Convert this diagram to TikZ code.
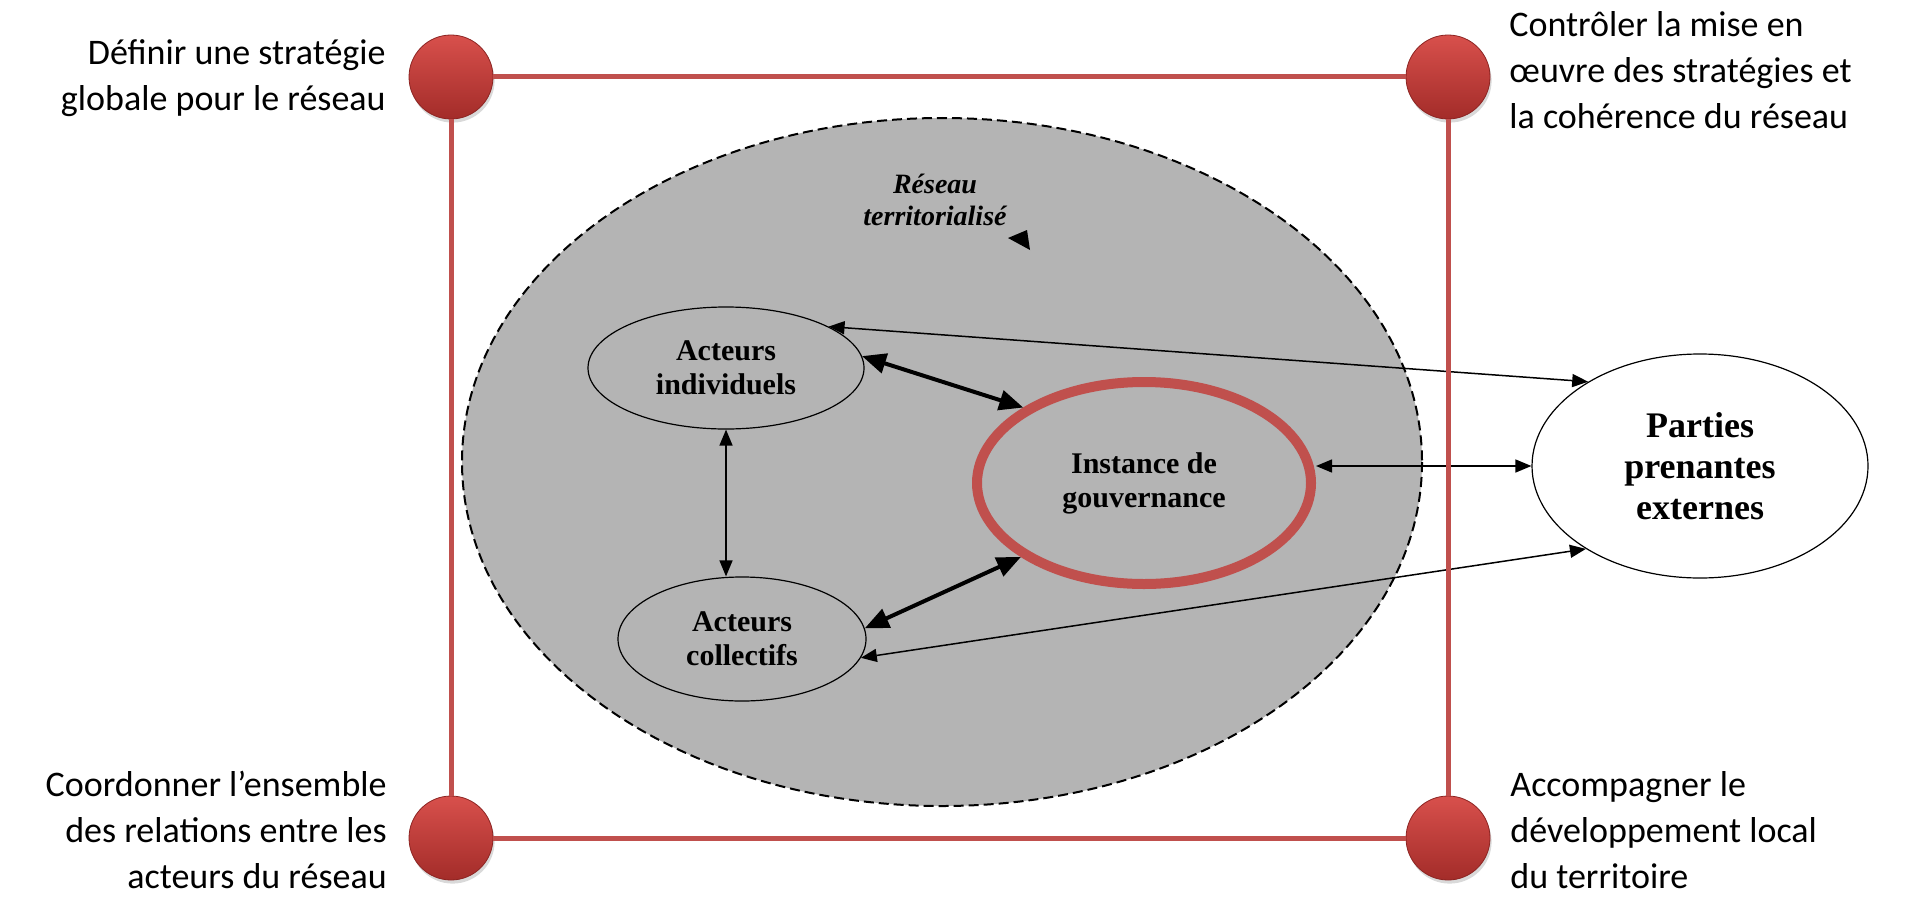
\documentclass[tikz,border=0pt]{standalone}
\usepackage{fontspec}
\setmainfont{Carlito}
\newfontfamily\scanfont{Liberation Serif}
\usetikzlibrary{arrows.meta,shapes.geometric,shadows}

\definecolor{frameRed}{RGB}{192,80,77}
\definecolor{ballTop}{RGB}{216,80,76}
\definecolor{ballBot}{RGB}{163,44,41}
\definecolor{netGray}{RGB}{180,180,180}

\tikzset{
	ball/.style={circle,minimum size=42pt,inner sep=0pt,draw={rgb,255:red,140;green,36;blue,34},line width=0.4pt,top color=ballTop,bottom color=ballBot,drop shadow={opacity=0.3,shadow xshift=0.8pt,shadow yshift=-1.8pt}},
	frame/.style={draw=frameRed,line width=2.5pt},
	task/.style={inner sep=0pt,font=\fontsize{18}{23}\selectfont},
	actor/.style={ellipse,draw,line width=0.6pt,inner sep=0pt,align=center,font=\scanfont\bfseries\fontsize{15}{17}\selectfont},
	link/.style={{Triangle[length=8pt,width=6.5pt]}-{Triangle[length=8pt,width=6.5pt]},line width=0.75pt},
	strong/.style={{Triangle[length=12pt,width=10pt]}-{Triangle[length=12pt,width=10pt]},line width=2pt},
}

\begin{document}
\begin{tikzpicture}[x=0.5pt,y=0.5pt,yscale=-1,xscale=1]
	\useasboundingbox (0,0) rectangle (1909,899);

	%Shape: Ellipse [reseau territorialise]
	\draw [fill=netGray,line width=1pt,dash pattern=on 5pt off 2.5pt] (942,462) ellipse [x radius=480, y radius=344];
	%Shape: small triangle
	\fill (1008,238) -- (1027,230) -- (1030,250) -- cycle;

	% Text Node
	\node [align=center,inner sep=0pt,font=\scanfont\bfseries\itshape\fontsize{14}{16}\selectfont] (net) at (935,200) {Réseau\\territorialisé};

	% Actor nodes
	\node [actor,minimum width=138pt,minimum height=61pt] (ind) at (726,368) {Acteurs\\individuels};
	\node [actor,minimum width=124pt,minimum height=62pt] (col) at (742,639) {Acteurs\\collectifs};
	\node [actor,draw=frameRed,line width=5pt,minimum width=167pt,minimum height=101pt] (gov) at (1144,483) {Instance de\\gouvernance};
	\node [actor,fill=white,minimum width=168pt,minimum height=112pt,font=\scanfont\bfseries\fontsize{18}{20.5}\selectfont] (ext) at (1700,466) {Parties\\prenantes\\externes};

	%Straight Lines
	\draw [link] (ind.22) -- (ext.143);
	\draw [link] (col.-9) -- (ext.216);
	\draw [link] (ind.south) -- (ind.south |- col.north);
	\draw [link] (ext.west -| gov.east) -- (ext.west);
	\draw [strong] (ind.5) -- (gov.148);
	\draw [strong] (col.5) -- (gov.211);

	%Shape: Circle [corners]
	\node [ball] (tl) at (451,77) {};
	\node [ball] (tr) at (1448,77) {};
	\node [ball] (bl) at (451,838) {};
	\node [ball] (br) at (1448,838) {};
	%Straight Lines [frame]
	\draw [frame] (tl) -- (tr);
	\draw [frame] (tr) -- (br);
	\draw [frame] (br) -- (bl);
	\draw [frame] (bl) -- (tl);

	% Text Node
	\node [task,anchor=east,align=right] (t1) at (386,78) {Définir une stratégie\\globale pour le réseau};
	% Text Node
	\node [task,anchor=west,align=left] (t2) at (1509,70) {Contrôler la mise en\\œuvre des stratégies et\\la cohérence du réseau};
	% Text Node
	\node [task,anchor=east,align=right] (t3) at (387,830) {Coordonner l’ensemble\\des relations entre les\\acteurs du réseau};
	% Text Node
	\node [task,anchor=west,align=left] (t4) at (1510,830) {Accompagner le\\développement local\\du territoire};

\end{tikzpicture}
\end{document}
